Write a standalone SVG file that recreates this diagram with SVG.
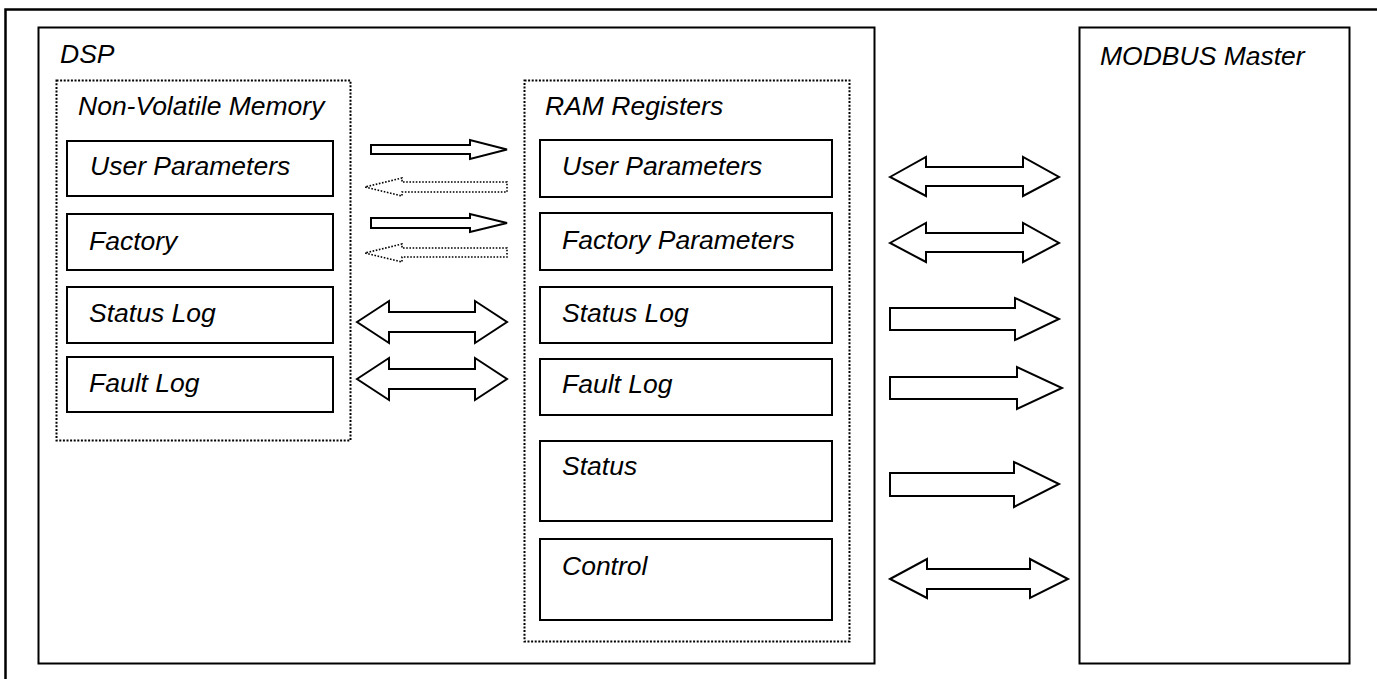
<svg xmlns="http://www.w3.org/2000/svg" width="1377" height="679" viewBox="0 0 1377 679">
<style>
.box{fill:#fff;stroke:#000;stroke-width:2}
.dot{fill:none;stroke:#000;stroke-width:2;stroke-dasharray:2 1.6}
.arr{fill:#fff;stroke:#000;stroke-width:2;stroke-linejoin:miter}
.darr{fill:#fff;stroke:#000;stroke-width:1.6;stroke-dasharray:1.6 1.6}
text{font-family:"Liberation Sans",Arial,sans-serif;font-style:italic;font-size:26.5px;fill:#000}
</style>
<rect width="1377" height="679" fill="#fff"/>
<rect x="5.5" y="9.5" width="1376" height="700" fill="none" stroke="#000" stroke-width="2.5"/>
<g id="dsp">
<rect class="box" x="38.5" y="27.5" width="836" height="636"/>
<text x="60" y="63">DSP</text>
</g>
<g id="modbus">
<rect class="box" x="1079.5" y="27.5" width="270" height="636"/>
<text x="1100" y="65">MODBUS Master</text>
</g>
<g id="nvm">
<rect class="dot" x="56.5" y="80.5" width="294" height="360"/>
<text x="78" y="115">Non-Volatile Memory</text>
</g>
<g id="nv-user"><rect class="box" x="67" y="141" width="266" height="55"/><text x="90" y="175">User Parameters</text></g>
<g id="nv-factory"><rect class="box" x="67" y="214" width="266" height="56"/><text x="89" y="250">Factory</text></g>
<g id="nv-statuslog"><rect class="box" x="67" y="287" width="266" height="56"/><text x="89" y="322">Status Log</text></g>
<g id="nv-faultlog"><rect class="box" x="67" y="357" width="266" height="55"/><text x="89" y="392">Fault Log</text></g>
<g id="ram">
<rect class="dot" x="524.5" y="80.5" width="325" height="561"/>
<text x="545" y="115">RAM Registers</text>
</g>
<g id="ram-user"><rect class="box" x="540" y="140" width="292" height="57"/><text x="562" y="175">User Parameters</text></g>
<g id="ram-factory"><rect class="box" x="540" y="213" width="292" height="57"/><text x="562" y="249">Factory Parameters</text></g>
<g id="ram-statuslog"><rect class="box" x="540" y="287" width="292" height="56"/><text x="562" y="322">Status Log</text></g>
<g id="ram-faultlog"><rect class="box" x="540" y="359" width="292" height="56"/><text x="562" y="393">Fault Log</text></g>
<g id="ram-status"><rect class="box" x="540" y="441" width="292" height="80"/><text x="562" y="475">Status</text></g>
<g id="ram-control"><rect class="box" x="540" y="539" width="292" height="81"/><text x="562" y="575">Control</text></g>
<g id="connectors">
<path class="arr" d="M371,145 H470 V140 L507,149.5 L470,159 V154 H371 Z"/>
<path class="darr" d="M507,182 H402 V178 L365,187 L402,196 V192 H507 Z"/>
<path class="arr" d="M371,218 H470 V214 L507,223 L470,232 V228 H371 Z"/>
<path class="darr" d="M507,248 H402 V244 L365,253 L402,262 V257 H507 Z"/>
<path class="arr" d="M357,322 L389,301 V312 H475 V301 L507,322 L475,343 V332 H389 V343 Z"/>
<path class="arr" d="M357,379 L389,358 V369 H475 V358 L507,379 L475,400 V389 H389 V400 Z"/>
<path class="arr" d="M890,177 L926,157 V167 H1023 V157 L1059,177 L1023,196 V186 H926 V196 Z"/>
<path class="arr" d="M890,243 L926,223 V233 H1023 V223 L1059,243 L1023,262 V252 H926 V262 Z"/>
<path class="arr" d="M890,308 H1015 V298 L1059,319 L1015,340 V330 H890 Z"/>
<path class="arr" d="M890,377 H1017 V367 L1062,388 L1017,409 V399 H890 Z"/>
<path class="arr" d="M890,473 H1014 V462 L1059,484 L1014,507 V496 H890 Z"/>
<path class="arr" d="M890,579 L927,559 V569 H1030 V559 L1068,579 L1030,598 V589 H927 V598 Z"/>
</g>
</svg>
